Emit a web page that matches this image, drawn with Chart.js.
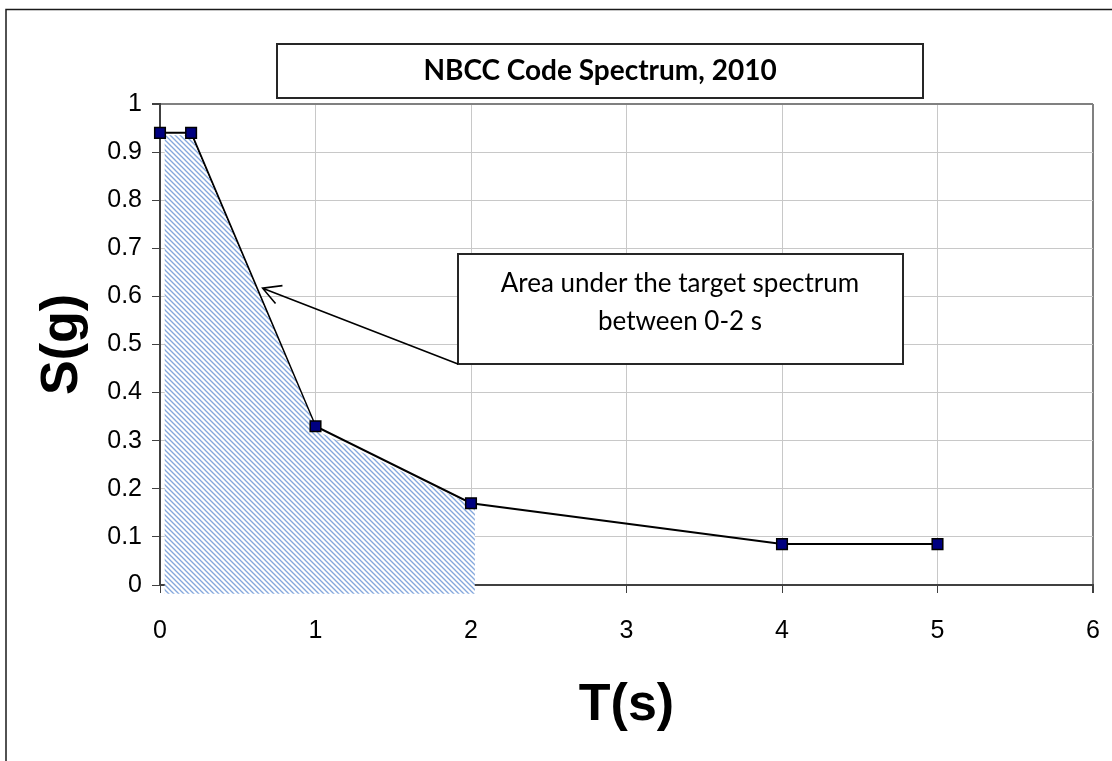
<!DOCTYPE html>
<html>
<head>
<meta charset="utf-8">
<title>NBCC Code Spectrum, 2010</title>
<script src="https://cdn.jsdelivr.net/npm/chart.js@4.4.1/dist/chart.umd.min.js"></script>
<style>
  html, body { margin: 0; padding: 0; background: #fff; }
  #wrap { width: 1112px; height: 761px; position: relative; }
</style>
</head>
<body>
<div id="wrap"><canvas id="spectrumChart"></canvas></div>
<script>
// design spectrum: period T (s) against spectral acceleration S (g)
const periods = [0, 0.2, 1, 2, 4, 5];
const accel = [0.94, 0.94, 0.33, 0.17, 0.085, 0.085];

// hatched area under the spectrum between 0 and 2 s
const areaT = [0.03, 0.2, 1.01, 2.025];
const areaS = [0.935, 0.935, 0.32, 0.163];
const areaBase = -0.018;

const xTickLabels = ['0', '1', '2', '3', '4', '5', '6'];
const yTickLabels = ['0', '0.1', '0.2', '0.3', '0.4', '0.5', '0.6', '0.7', '0.8', '0.9', '1'];

const chartTitle = 'NBCC Code Spectrum, 2010';
const noteLines = ['Area under the target spectrum', 'between 0-2 s'];
const noteTarget = { t: 0.66, s: 0.617 };

const points = periods.map((t, i) => ({ x: t, y: accel[i] }));

// diagonal hatch used for the shaded area
function makeHatch() {
  const c = document.createElement('canvas');
  c.width = 5; c.height = 5;
  const g = c.getContext('2d');
  g.fillStyle = '#ffffff';
  g.fillRect(0, 0, 5, 5);
  g.strokeStyle = '#84a7dc';
  g.lineWidth = 1.35;
  g.beginPath();
  g.moveTo(-1, -1); g.lineTo(6, 6);
  g.moveTo(-1, 4); g.lineTo(1, 6);
  g.moveTo(4, -1); g.lineTo(6, 1);
  g.stroke();
  return g.createPattern(c, 'repeat');
}

const decorations = {
  id: 'decorations',
  beforeDraw(chart) {
    const ctx = chart.ctx;
    ctx.save();
    ctx.fillStyle = '#fff';
    ctx.fillRect(0, 0, chart.width, chart.height);
    ctx.strokeStyle = '#1a1a1a';
    ctx.lineWidth = 1.5;
    ctx.beginPath();
    ctx.moveTo(6, chart.height + 2);
    ctx.lineTo(6, 9.5);
    ctx.lineTo(chart.width + 2, 9.5);
    ctx.stroke();
    ctx.restore();
  },
  // shaded area sits above the spectrum line but under the markers
  afterDatasetDraw(chart, args) {
    if (args.index !== 0) return;
    const { ctx, scales: { x, y } } = chart;
    ctx.save();
    ctx.fillStyle = makeHatch();
    ctx.beginPath();
    ctx.moveTo(x.getPixelForValue(areaT[0]), y.getPixelForValue(areaBase));
    areaT.forEach((t, i) => ctx.lineTo(x.getPixelForValue(t), y.getPixelForValue(areaS[i])));
    ctx.lineTo(x.getPixelForValue(areaT[areaT.length - 1]), y.getPixelForValue(areaBase));
    ctx.closePath();
    ctx.fill();
    ctx.restore();
  },
  afterDraw(chart) {
    const { ctx, scales: { x, y } } = chart;
    ctx.save();

    // title box
    ctx.fillStyle = '#fff';
    ctx.fillRect(277, 44, 646, 54);
    ctx.strokeStyle = '#262626';
    ctx.lineWidth = 2;
    ctx.strokeRect(277, 44, 646, 54);
    ctx.fillStyle = '#000';
    ctx.font = 'bold 28px Lato';
    ctx.textAlign = 'center';
    ctx.textBaseline = 'middle';
    ctx.fillText(chartTitle, 600, 71);

    // note box with arrow
    ctx.fillStyle = '#fff';
    ctx.fillRect(458, 254, 445, 110);
    ctx.strokeRect(458, 254, 445, 110);
    ctx.fillStyle = '#000';
    ctx.font = '26px Lato';
    ctx.fillText(noteLines[0], 680, 284);
    ctx.fillText(noteLines[1], 680, 322);

    const tx = x.getPixelForValue(noteTarget.t);
    const ty = y.getPixelForValue(noteTarget.s);
    const sx = 458, sy = 364;
    const ang = Math.atan2(sy - ty, sx - tx);
    ctx.strokeStyle = '#000';
    ctx.lineWidth = 1.6;
    ctx.beginPath();
    ctx.moveTo(sx, sy);
    ctx.lineTo(tx, ty);
    const wing = 20, spread = 0.5;
    ctx.moveTo(tx + wing * Math.cos(ang - spread), ty + wing * Math.sin(ang - spread));
    ctx.lineTo(tx, ty);
    ctx.lineTo(tx + wing * Math.cos(ang + spread), ty + wing * Math.sin(ang + spread));
    ctx.stroke();
    ctx.restore();
  }
};

const axisFont = { family: 'Liberation Sans, Arial, sans-serif', size: 25 };
const titleFont = { family: 'Liberation Sans, Arial, sans-serif', size: 52, weight: 'bold' };

new Chart(document.getElementById('spectrumChart'), {
  type: 'scatter',
  data: {
    datasets: [
      {
        label: 'Spectrum',
        data: points,
        showLine: true,
        borderColor: '#000',
        borderWidth: 2,
        pointRadius: 0,
        tension: 0,
        order: 2,
      },
      {
        label: 'Points',
        data: points,
        showLine: false,
        clip: false,
        pointStyle: 'rect',
        pointRadius: 7.5,
        pointBackgroundColor: '#000080',
        pointBorderColor: '#000',
        pointBorderWidth: 1.5,
        order: 1,
      },
    ],
  },
  options: {
    responsive: true,
    maintainAspectRatio: false,
    animation: false,
    layout: { padding: { left: 20, top: 104, right: 19, bottom: 10 } },
    plugins: {
      legend: { display: false },
      tooltip: { enabled: false },
    },
    scales: {
      x: {
        type: 'linear',
        min: 0,
        max: 6,
        afterFit: (s) => {
          s.height = 166;
          s.paddingLeft = 0;
          s.paddingRight = 0;
        },
        ticks: {
          stepSize: 1,
          color: '#000',
          font: axisFont,
          padding: 23,
          maxRotation: 0,
          callback: (v, i) => xTickLabels[i],
        },
        grid: {
          color: (c) => (c.tick && c.tick.value === 6 ? '#808080' : '#c8c8c8'),
          lineWidth: (c) => (c.tick && c.tick.value === 6 ? 2 : 1),
          tickColor: '#404040',
          tickLength: 8,
        },
        border: { display: true, color: '#404040', width: 2 },
        title: {
          display: true,
          text: 'T(s)',
          color: '#000',
          font: titleFont,
          padding: { top: 0, bottom: 14 },
        },
      },
      y: {
        type: 'linear',
        min: 0,
        max: 1,
        afterFit: (s) => {
          s.width = 140;
          s.paddingTop = 0;
          s.paddingBottom = 0;
        },
        ticks: {
          stepSize: 0.1,
          color: '#000',
          font: axisFont,
          padding: 10,
          callback: (v, i) => yTickLabels[i],
        },
        grid: {
          color: (c) => (c.tick && c.tick.value === 1 ? '#808080' : '#c8c8c8'),
          lineWidth: (c) => (c.tick && c.tick.value === 1 ? 2 : 1),
          tickColor: '#404040',
          tickLength: 8,
        },
        border: { display: true, color: '#404040', width: 2 },
        title: {
          display: true,
          text: 'S(g)',
          color: '#000',
          font: titleFont,
          padding: { top: 11, bottom: 0 },
        },
      },
    },
  },
  plugins: [decorations],
});
</script>
</body>
</html>
